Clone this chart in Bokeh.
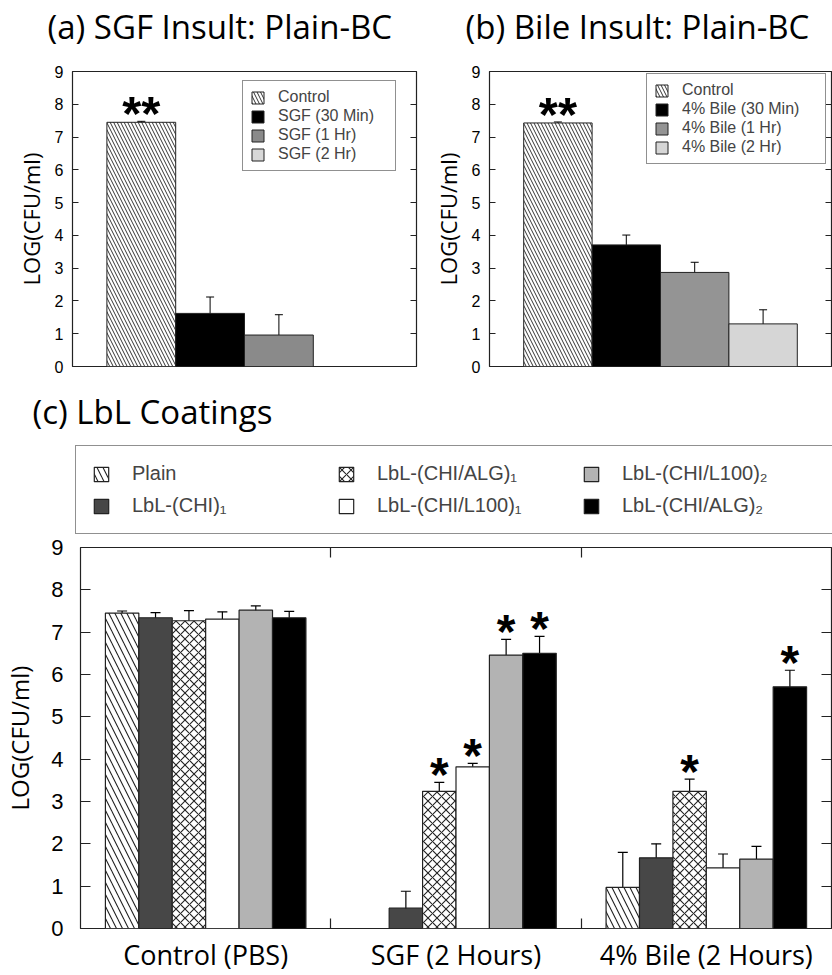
import numpy as np
from bokeh.plotting import figure
from bokeh.models import (ColumnDataSource, Whisker, TeeHead, Legend, LegendItem,
                          FixedTicker, LinearAxis, Range1d, Label)
from bokeh.layouts import column, row
from bokeh.embed import file_html
from bokeh.resources import INLINE
from bokeh.core.properties import value

# ---------------- data ----------------
# Panel (a) SGF insult, plain BC
a_title = "(a) SGF Insult: Plain-BC"
a_labels = ["Control", "SGF (30 Min)", "SGF (1 Hr)", "SGF (2 Hr)"]
a_values = [7.45, 1.62, 0.96, 0.0]
a_errors = [0.03, 0.50, 0.62, 0.0]
a_sig = ["**", "", "", ""]

# Panel (b) Bile insult, plain BC
b_title = "(b) Bile Insult: Plain-BC"
b_labels = ["Control", "4% Bile (30 Min)", "4% Bile (1 Hr)", "4% Bile (2 Hr)"]
b_values = [7.43, 3.71, 2.87, 1.30]
b_errors = [0.03, 0.30, 0.31, 0.43]
b_sig = ["**", "", "", ""]

# Panel (c) LbL coatings
c_title = "(c) LbL Coatings"
c_groups = ["Control (PBS)", "SGF (2 Hours)", "4% Bile (2 Hours)"]
c_series = ["Plain", "LbL-(CHI)₁", "LbL-(CHI/ALG)₁",
            "LbL-(CHI/L100)₁", "LbL-(CHI/L100)₂", "LbL-(CHI/ALG)₂"]
plain_vals = [7.45, 0.00, 0.97]
plain_errs = [0.05, 0.00, 0.83]
plain_sig = ["", "", ""]
chi1_vals = [7.34, 0.48, 1.67]
chi1_errs = [0.12, 0.40, 0.33]
chi1_sig = ["", "", ""]
alg1_vals = [7.27, 3.24, 3.24]
alg1_errs = [0.24, 0.21, 0.29]
alg1_sig = ["", "*", "*"]
l1001_vals = [7.31, 3.82, 1.43]
l1001_errs = [0.17, 0.08, 0.33]
l1001_sig = ["", "*", ""]
l1002_vals = [7.52, 6.46, 1.64]
l1002_errs = [0.10, 0.37, 0.30]
l1002_sig = ["", "*", ""]
alg2_vals = [7.34, 6.50, 5.71]
alg2_errs = [0.15, 0.40, 0.39]
alg2_sig = ["", "*", "*"]

y_ticks = list(range(0, 10))

# ---------------- style ----------------
TITLE_FONT = "Open Sans"
NUM_FONT = "Liberation Sans"
FRAME = "#222222"
TITLE_SIZE = "33px"


def strip(width, height):
    s = figure(width=width, height=height, x_range=Range1d(0, width), y_range=Range1d(0, height),
               x_axis_type=None, y_axis_type=None, output_backend="svg", toolbar_location=None,
               min_border_left=0, min_border_right=0, min_border_top=0, min_border_bottom=0)
    s.outline_line_color = None
    s.grid.visible = False
    return s


def add_title(s, text, x, y):
    s.add_layout(Label(x=x, y=y, text=text, text_font=TITLE_FONT, text_font_size=TITLE_SIZE,
                       text_baseline="alphabetic", text_align="left", text_color="black"))


def style_y(ax, tick_len, label_size, standoff, axis_size, axis_standoff, show_label=True):
    ax.ticker = FixedTicker(ticks=y_ticks)
    ax.major_tick_in = tick_len
    ax.major_tick_out = 0
    ax.minor_tick_line_color = None
    ax.major_tick_line_color = FRAME
    ax.major_tick_line_width = 1.2
    ax.axis_line_color = None
    if show_label:
        ax.major_label_text_font = NUM_FONT
        ax.major_label_text_font_size = label_size
        ax.major_label_text_color = "black"
        ax.major_label_standoff = standoff
        ax.axis_label = "LOG(CFU/ml)"
        ax.axis_label_text_font = TITLE_FONT
        ax.axis_label_text_font_size = axis_size
        ax.axis_label_text_font_style = "normal"
        ax.axis_label_text_color = "black"
        ax.axis_label_standoff = axis_standoff
    else:
        ax.major_label_text_font_size = "0px"
        ax.major_label_text_color = None
        ax.major_label_standoff = 0


def small_panel(labels, vals, errs, sig, fills, hatch, b_left, b_right,
                frame_w, leg_loc, leg_lw):
    p = figure(width=b_left + b_right + frame_w, height=322,
               x_range=Range1d(-1.0, 4.0), y_range=Range1d(0, 9),
               output_backend="svg", toolbar_location=None,
               min_border_left=b_left, min_border_right=b_right,
               min_border_top=10, min_border_bottom=17)
    p.xgrid.visible = False
    p.ygrid.visible = False
    p.xaxis.visible = False
    p.outline_line_color = FRAME
    p.outline_line_width = 1.2
    style_y(p.yaxis[0], 6, "16px", 9, "22px", 6)
    rax = LinearAxis()
    style_y(rax, 6, "0px", 0, "0px", 0, show_label=False)
    p.add_layout(rax, "right")

    items = []
    for i, lab in enumerate(labels):
        r = p.vbar(x=[i], top=[vals[i]], width=1.0, bottom=0,
                   fill_color=fills[i], line_color="#222222", line_width=1,
                   hatch_pattern=hatch[i], hatch_color="#333333",
                   hatch_scale=7, hatch_weight=1)
        items.append(LegendItem(label=lab, renderers=[r]))
    xs = [i for i in range(len(vals)) if errs[i] > 0]
    src = ColumnDataSource(dict(base=xs,
                                upper=[vals[i] + errs[i] for i in xs],
                                lower=[vals[i] - errs[i] for i in xs]))
    w = Whisker(source=src, base="base", upper="upper", lower="lower",
                line_color="black", line_width=1,
                upper_head=TeeHead(size=8, line_color="black", line_width=1),
                lower_head=TeeHead(size=8, line_color="black", line_width=1))
    p.add_layout(w)
    sx = [i for i in range(len(vals)) if sig[i]]
    p.text(x=sx, y=[vals[i] + errs[i] for i in sx], text=[sig[i] for i in sx],
           text_font=value(NUM_FONT), text_font_size="49px", text_font_style="bold",
           text_align="center", text_baseline="alphabetic", y_offset=-8,
           text_color="black")

    leg = Legend(items=items, location=leg_loc, margin=0,
                 padding=7, spacing=1, glyph_width=15, glyph_height=15,
                 label_height=15, label_standoff=13, label_width=leg_lw,
                 label_text_font=NUM_FONT, label_text_font_size="16px",
                 border_line_color=FRAME, border_line_width=1.2,
                 background_fill_alpha=1.0)
    p.add_layout(leg)
    return p


# titles of (a) and (b)
ptop = strip(832, 61)
add_title(ptop, a_title, 47, 35)
add_title(ptop, b_title, 465, 35)

pa = small_panel(a_labels, a_values, a_errors, a_sig,
                 ["white", "black", "#8a8a8a", "#d8d8d8"], ["\\", " ", " ", " "],
                 72, 4, 344, (170, 195), 110)
pb = small_panel(b_labels, b_values, b_errors, b_sig,
                 ["white", "black", "#949494", "#d6d6d6"], ["\\", " ", " ", " "],
                 69, 1, 342, (157, 202), 136)

# ---------------- panel (c) ----------------
series_vals = [plain_vals, chi1_vals, alg1_vals, l1001_vals, l1002_vals, alg2_vals]
series_errs = [plain_errs, chi1_errs, alg1_errs, l1001_errs, l1002_errs, alg2_errs]
series_sig = [plain_sig, chi1_sig, alg1_sig, l1001_sig, l1002_sig, alg2_sig]
fills = ["white", "#474747", "white", "white", "#b3b3b3", "black"]
hatches = ["\\", " ", "x", " ", " ", " "]
hscale = [12, 12, 9, 12, 12, 12]

# title + legend strip of panel (c)
pl = strip(832, 152)
add_title(pl, c_title, 32, 124)
leg_items = []
for k in range(len(c_series)):
    r = pl.vbar(x=[np.nan], top=[np.nan], width=0.1,
                fill_color=fills[k], line_color="#222222", line_width=1.2,
                hatch_pattern=hatches[k], hatch_color="#222222",
                hatch_scale=hscale[k], hatch_weight=1.1)
    leg_items.append(LegendItem(label=c_series[k], renderers=[r]))
legc = Legend(items=leg_items, orientation="vertical", nrows=2, location=(75, 1),
              margin=0, padding=16, spacing=9, glyph_width=18, glyph_height=18,
              label_height=22, label_standoff=22, label_width=196,
              label_text_font=NUM_FONT, label_text_font_size="20px",
              border_line_color=FRAME, border_line_width=1.2)
pl.add_layout(legc)

pc = figure(width=832, height=440, x_range=Range1d(-0.5, 2.5), y_range=Range1d(0, 9),
            output_backend="svg", toolbar_location=None,
            min_border_left=80, min_border_right=1, min_border_top=12, min_border_bottom=39)
pc.xgrid.visible = False
pc.ygrid.visible = False
pc.outline_line_color = FRAME
pc.outline_line_width = 1.2
style_y(pc.yaxis[0], 10, "22px", 17, "24px", 12)
rax = LinearAxis()
style_y(rax, 10, "0px", 0, "0px", 0, show_label=False)
pc.add_layout(rax, "right")

xa = pc.xaxis[0]
xa.ticker = FixedTicker(ticks=[0, 1, 2], minor_ticks=[0.5, 1.5])
xa.major_label_overrides = {i: g for i, g in enumerate(c_groups)}
xa.major_tick_line_color = None
xa.minor_tick_in = 10
xa.minor_tick_out = 0
xa.minor_tick_line_color = FRAME
xa.minor_tick_line_width = 1.2
xa.axis_line_color = None
xa.major_label_text_font = TITLE_FONT
xa.major_label_text_font_size = "27px"
xa.major_label_text_line_height = 1.0
xa.major_label_text_color = "black"
xa.major_label_standoff = 1
xa.axis_label_standoff = 0

tax = LinearAxis(ticker=FixedTicker(ticks=[0, 1, 2], minor_ticks=[0.5, 1.5]))
tax.major_tick_line_color = None
tax.minor_tick_in = 10
tax.minor_tick_out = 0
tax.minor_tick_line_color = FRAME
tax.minor_tick_line_width = 1.2
tax.axis_line_color = None
tax.major_label_text_font_size = "0px"
tax.major_label_text_color = None
tax.major_label_standoff = 0
tax.axis_label_standoff = 0
pc.add_layout(tax, "above")

bw = 0.1335
n = len(c_series)
for k in range(n):
    xs = [g + (k - (n - 1) / 2) * bw for g in range(len(c_groups))]
    vals = series_vals[k]
    errs = series_errs[k]
    pc.vbar(x=xs, top=vals, bottom=0, width=bw,
            fill_color=fills[k], line_color="#222222", line_width=1.2,
            hatch_pattern=hatches[k], hatch_color="#222222",
            hatch_scale=hscale[k], hatch_weight=1.1)
    idx = [j for j in range(len(vals)) if errs[j] > 0]
    src = ColumnDataSource(dict(base=[xs[j] for j in idx],
                                upper=[vals[j] + errs[j] for j in idx],
                                lower=[vals[j] - errs[j] for j in idx]))
    pc.add_layout(Whisker(source=src, base="base", upper="upper", lower="lower",
                          line_color="black", line_width=1.2,
                          upper_head=TeeHead(size=10, line_color="black", line_width=1.2),
                          lower_head=TeeHead(size=10, line_color="black", line_width=1.2)))
    sidx = [j for j in range(len(vals)) if series_sig[k][j]]
    pc.text(x=[xs[j] for j in sidx], y=[vals[j] + errs[j] for j in sidx],
            text=[series_sig[k][j] for j in sidx],
            text_font=value(NUM_FONT), text_font_size="48px", text_font_style="bold",
            text_align="center", text_baseline="alphabetic", y_offset=-8,
            text_color="black")

layout = column(row(ptop), row(pa, pb), row(pl), row(pc))
open("out.html", "w").write(file_html(layout, INLINE))
